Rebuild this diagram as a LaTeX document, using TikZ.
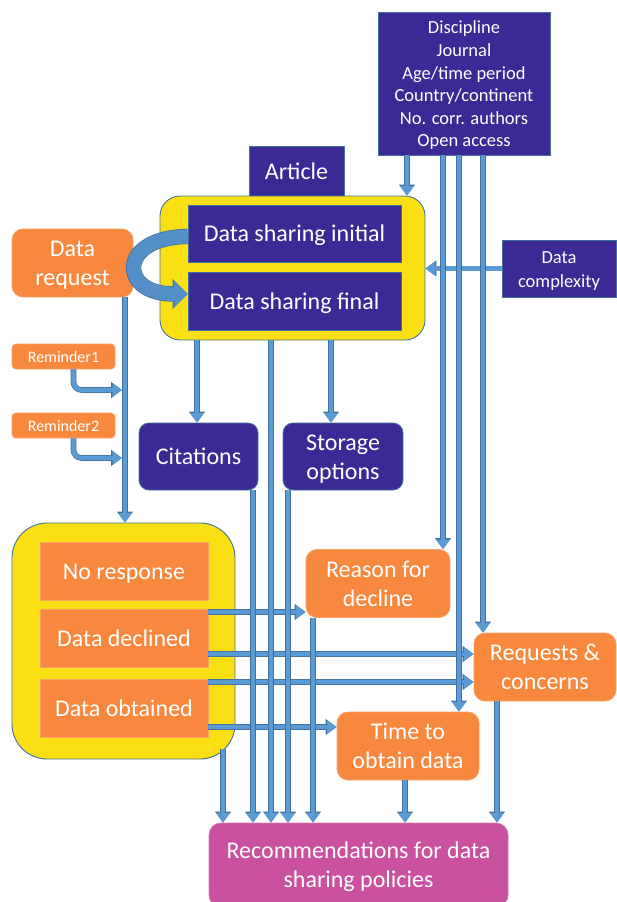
\documentclass[tikz,border=0pt]{standalone}
\usepackage{fontspec}
\setmainfont{Carlito}
\usetikzlibrary{arrows.meta,calc}
\definecolor{purp}{HTML}{3B2A96}
\definecolor{orng}{HTML}{F7883D}
\definecolor{yell}{HTML}{FADF14}
\definecolor{bord}{HTML}{41719C}
\definecolor{ablue}{HTML}{5B9BD5}
\definecolor{magen}{HTML}{C9519D}
\newcommand{\celltxt}[1]{\raisebox{-2.3pt}[\height][\depth]{\begin{tabular}{@{}c@{}}#1\end{tabular}}}
\begin{document}
\begin{tikzpicture}[x=1pt,y=-1pt,
 base/.style={inner sep=0pt, text=white, font=\fontsize{24}{29}\selectfont},
 pbox/.style={base, fill=purp, draw=bord, line width=0.8pt},
 prbox/.style={pbox, rounded corners=10pt},
 obox/.style={base, fill=orng, draw=orng!80!white, line width=0.8pt, rounded corners=11pt},
 osq/.style={base, fill=orng, draw=orng!80!white, line width=0.6pt},
 ybox/.style={fill=yell, draw=bord, line width=0.9pt, inner sep=0pt},
 arr/.style={line width=4.2pt, draw=ablue, -{Triangle[length=9.5pt,width=13pt]},
   preaction={draw=bord, line width=5.6pt, -{Triangle[length=11pt,width=15.5pt]}}},
 curv/.style={line width=14pt, draw=ablue!75!bord, -{Triangle[length=14pt,width=27pt]},
   preaction={draw=bord, line width=15.4pt, -{Triangle[length=15pt,width=29pt]}}},
]
\useasboundingbox (0,0) rectangle (616,902);

% x positions of vertical connectors
\coordinate (xA) at (407,0);
\coordinate (xB) at (443,0);
\coordinate (xC) at (459,0);
\coordinate (xD) at (483,0);
\coordinate (xE) at (197,0);
\coordinate (xF) at (331,0);
\coordinate (xG) at (271,0);
\coordinate (xH) at (253,0);
\coordinate (xI) at (288,0);
\coordinate (xJ) at (125,0);
\coordinate (xK) at (223,0);
\coordinate (xL) at (313,0);
\coordinate (xM) at (405,0);
\coordinate (xN) at (497,0);
% y positions of horizontal connectors
\coordinate (yB) at (0,612);
\coordinate (yC) at (0,654);
\coordinate (yD) at (0,682);
\coordinate (yE) at (0,727);
\coordinate (j1) at (122,390);
\coordinate (j2) at (122,458);

% boxes
\node[pbox, minimum width=172pt, minimum height=143pt, font=\fontsize{18.5}{22.6}\selectfont] (attrs) at (464,83.5)
  {\celltxt{Discipline\\Journal\\Age/time period\\Country/continent\\No. corr. authors\\Open access}};
\node[pbox, minimum width=95pt, minimum height=50pt] (article) at (296.5,171) {\celltxt{Article}};
\node[ybox, rounded corners=20pt, minimum width=265pt, minimum height=144pt] (yel1) at (292.5,268) {};
\node[pbox, minimum width=213pt, minimum height=57pt] (dsi) at (294.5,233.5) {\celltxt{Data sharing initial}};
\node[pbox, minimum width=213pt, minimum height=58pt] (dsf) at (294.5,301) {\celltxt{Data sharing final}};
\node[obox, minimum width=121pt, minimum height=68pt] (req) at (72.5,263) {\celltxt{Data\\request}};
\node[pbox, minimum width=114pt, minimum height=57pt, font=\fontsize{18.5}{24}\selectfont] (cplx) at (559,268.5) {\celltxt{Data\\complexity}};
\node[obox, rounded corners=4pt, minimum width=103pt, minimum height=25pt, font=\fontsize{16}{19}\selectfont] (rem1) at (63.5,356.5) {\celltxt{Reminder1}};
\node[obox, rounded corners=4pt, minimum width=103pt, minimum height=25pt, font=\fontsize{16}{19}\selectfont] (rem2) at (63.5,425.5) {\celltxt{Reminder2}};
\node[prbox, minimum width=119pt, minimum height=67pt] (cit) at (198.5,456.5) {\celltxt{Citations}};
\node[prbox, minimum width=120pt, minimum height=67pt] (stor) at (343,456.5) {\celltxt{Storage\\options}};
\node[ybox, rounded corners=35pt, minimum width=223pt, minimum height=236pt] (yel2) at (123.5,641) {};
\node[osq, minimum width=168pt, minimum height=58pt] (nores) at (124,571) {\celltxt{No response}};
\node[osq, minimum width=168pt, minimum height=58pt] (decl) at (124,638) {\celltxt{Data declined}};
\node[osq, minimum width=168pt, minimum height=58pt] (obt) at (124,708) {\celltxt{Data obtained}};
\node[obox, minimum width=144pt, minimum height=68pt] (reason) at (378,583.5) {\celltxt{Reason for\\decline}};
\node[obox, minimum width=142pt, minimum height=68pt] (reqc) at (545,667) {\celltxt{Requests \&\\concerns}};
\node[obox, minimum width=142pt, minimum height=68pt] (time) at (408,746) {\celltxt{Time to\\obtain data}};
\node[base, fill=magen, draw=magen!80!white, line width=0.8pt, rounded corners=12pt,
  minimum width=299pt, minimum height=84pt] (rec) at (358.5,865) {\celltxt{Recommendations for data\\sharing policies}};

% curved arrow
\draw[curv] ([yshift=-3pt]dsi.west) .. controls (118,237) and (118,294) .. ([yshift=7pt]dsf.west);

% horizontal connectors
\draw[arr] (cplx.west) -- (yel1.east |- cplx.west);
\draw[arr] (decl.east |- yB) -- (reason.west |- yB);
\draw[arr] (decl.east |- yC) -- (reqc.west |- yC);
\draw[arr] (obt.east |- yD) -- (reqc.west |- yD);
\draw[arr] (obt.east |- yE) -- (time.west |- yE);
\draw[arr, rounded corners=8pt] ([xshift=10pt]rem1.south) |- (j1);
\draw[arr, rounded corners=8pt] ([xshift=10pt]rem2.south) |- (j2);

% vertical connectors
\draw[arr] (attrs.south -| xA) -- (yel1.north -| xA);
\draw[arr] (attrs.south -| xB) -- (reason.north -| xB);
\draw[arr] (attrs.south -| xC) -- (time.north -| xC);
\draw[arr] (attrs.south -| xD) -- (reqc.north -| xD);
\draw[arr] (yel1.south -| xE) -- (cit.north -| xE);
\draw[arr] (yel1.south -| xF) -- (stor.north -| xF);
\draw[arr] (yel1.south -| xG) -- (rec.north -| xG);
\draw[arr] (cit.south -| xH) -- (rec.north -| xH);
\draw[arr] (stor.south -| xI) -- (rec.north -| xI);
\draw[arr] (req.south -| xJ) -- (yel2.north -| xJ);
\draw[arr] ($(yel2.south -| xK)+(0,-10)$) -- (rec.north -| xK);
\draw[arr] (reason.south -| xL) -- (rec.north -| xL);
\draw[arr] (time.south -| xM) -- (rec.north -| xM);
\draw[arr] (reqc.south -| xN) -- (rec.north -| xN);
\end{tikzpicture}
\end{document}
